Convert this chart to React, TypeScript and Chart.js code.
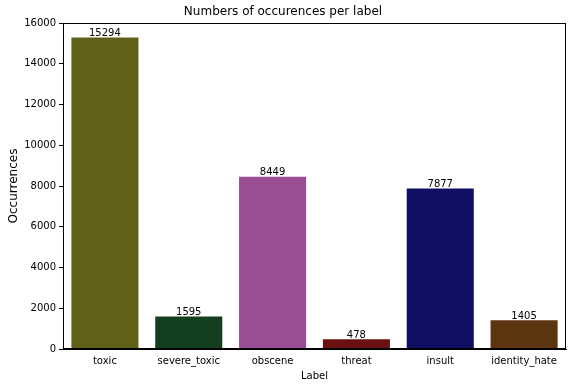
import React, { useEffect, useRef } from "react";
import { Chart, registerables } from "chart.js";

Chart.register(...registerables);

const categories = ["toxic", "severe_toxic", "obscene", "threat", "insult", "identity_hate"];
const occurrences = [15294, 1595, 8449, 478, 7877, 1405];
const barColors = ["#5f6118", "#133f20", "#9a4e94", "#6b1010", "#110f63", "#5a3510"];
const yTicks = [0, 2000, 4000, 6000, 8000, 10000, 12000, 14000, 16000];

const FONT = "'DejaVu Sans', sans-serif";

const framePlugin = {
  id: "frame",
  afterDraw(chart: any) {
    const { ctx, chartArea } = chart;
    ctx.save();
    ctx.strokeStyle = "#000";
    ctx.lineWidth = 1;
    ctx.strokeRect(
      Math.round(chartArea.left) + 0.5,
      Math.round(chartArea.top) + 0.5,
      Math.round(chartArea.right - chartArea.left) - 1,
      Math.round(chartArea.bottom - chartArea.top) - 1
    );
    ctx.fillStyle = "#000";
    ctx.font = `10px ${FONT}`;
    ctx.textAlign = "center";
    ctx.textBaseline = "bottom";
    const meta = chart.getDatasetMeta(0);
    meta.data.forEach((bar: any, i: number) => {
      ctx.fillText(String(occurrences[i]), bar.x, bar.y + 1);
    });
    ctx.restore();
  },
};

export default function App() {
  const ref = useRef<HTMLCanvasElement>(null);
  useEffect(() => {
    const chart = new Chart(ref.current!, {
      type: "bar",
      data: {
        labels: categories,
        datasets: [
          {
            data: occurrences,
            backgroundColor: barColors,
            borderWidth: 0,
            barPercentage: 0.8,
            categoryPercentage: 1,
          },
        ],
      },
      options: {
        animation: false,
        responsive: false,
        maintainAspectRatio: false,
        layout: { padding: { left: 0, right: 9, top: 0, bottom: 0 } },
        plugins: {
          legend: { display: false },
          tooltip: { enabled: false },
          title: {
            display: true,
            text: "Numbers of occurences per label",
            color: "#000",
            font: { family: FONT, size: 12, weight: "normal" },
            padding: { top: 5, bottom: 3.6 },
          },
        },
        scales: {
          x: {
            offset: true,
            grid: { display: false, drawOnChartArea: false, drawTicks: true, tickLength: 4, color: "#000" },
            border: { display: true, color: "#000" },
            ticks: { color: "#000", font: { family: FONT, size: 10 }, padding: 2, maxRotation: 0, autoSkip: false },
            title: {
              display: true,
              text: "Label",
              color: "#000",
              font: { family: FONT, size: 10 },
              padding: { top: 2, bottom: 6 },
            },
            afterFit: (s: any) => {
              s.height = 39;
            },
          },
          y: {
            min: 0,
            max: 16000,
            afterBuildTicks: (s: any) => {
              s.ticks = yTicks.map((v) => ({ value: v }));
            },
            grid: { display: true, drawOnChartArea: false, drawTicks: true, tickLength: 4, color: "#000" },
            border: { display: true, color: "#000" },
            ticks: {
              color: "#000",
              font: { family: FONT, size: 10 },
              padding: 3,
              callback: (v: any) => String(v),
            },
            title: {
              display: true,
              text: "Occurrences",
              color: "#000",
              font: { family: FONT, size: 12 },
              padding: { top: 7, bottom: 0 },
            },
            afterFit: (s: any) => {
              s.width = 63;
            },
          },
        },
      },
      plugins: [framePlugin],
    });
    return () => chart.destroy();
  }, []);
  return (
    <div style={{ position: "absolute", left: 0, top: 0, width: 575, height: 388, background: "#fff" }}>
      <canvas ref={ref} width={575} height={388} />
    </div>
  );
}
